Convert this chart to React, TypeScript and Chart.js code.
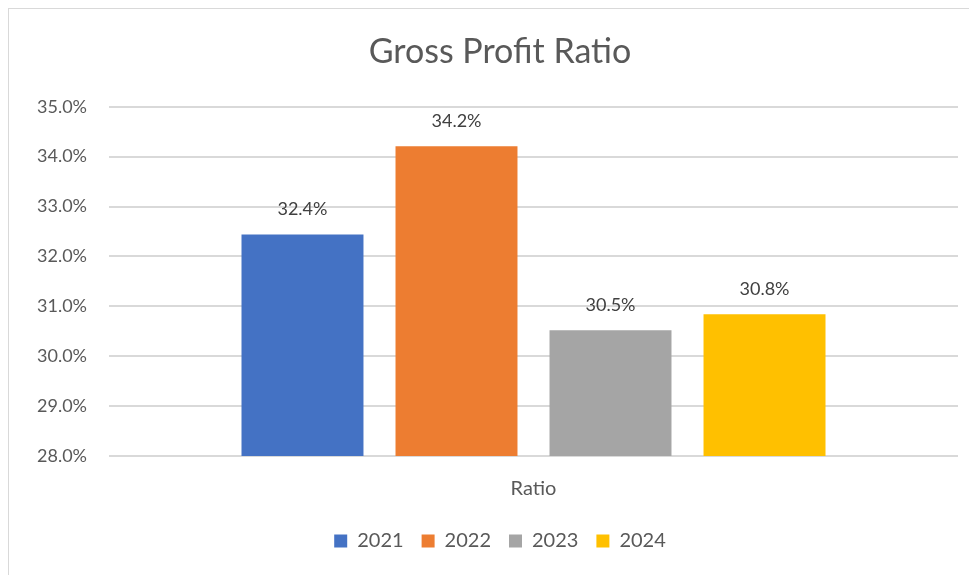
import React, { useEffect, useRef } from 'react';
import { Chart, registerables } from 'chart.js';

Chart.register(...registerables);

const categories = ['Ratio'];
const seriesNames = ['2021', '2022', '2023', '2024'];
const values2021 = [32.44];
const values2022 = [34.21];
const values2023 = [30.52];
const values2024 = [30.84];
const seriesColors = ['#4472C4', '#ED7D31', '#A5A5A5', '#FFC000'];
const yMin = 28;
const yMax = 35;
const yStep = 1;

const FONT = 'Lato';

const barLabelPlugin = {
  id: 'barLabels',
  afterDatasetsDraw(chart: any) {
    const ctx = chart.ctx;
    ctx.save();
    ctx.font = `18px ${FONT}`;
    ctx.fillStyle = '#404040';
    ctx.textAlign = 'center';
    ctx.textBaseline = 'middle';
    chart.data.datasets.forEach((ds: any, i: number) => {
      const meta = chart.getDatasetMeta(i);
      meta.data.forEach((bar: any, j: number) => {
        const v = ds.data[j] as number;
        ctx.fillText(v.toFixed(1) + '%', bar.x, bar.y - 25);
      });
    });
    ctx.restore();
  },
};

export default function App() {
  const canvasRef = useRef<HTMLCanvasElement | null>(null);

  useEffect(() => {
    if (!canvasRef.current) return;
    const allValues = [values2021, values2022, values2023, values2024];
    const chart = new Chart(canvasRef.current, {
      type: 'bar',
      data: {
        labels: categories,
        datasets: seriesNames.map((name, i) => ({
          label: name,
          data: allValues[i],
          backgroundColor: seriesColors[i],
          borderWidth: 0,
          categoryPercentage: 0.7256,
          barPercentage: 0.792,
        })),
      },
      options: {
        responsive: false,
        animation: false,
        layout: { padding: { top: 0, right: 0, left: 0, bottom: 14 } },
        plugins: {
          title: {
            display: true,
            text: 'Gross Profit Ratio',
            color: '#595959',
            font: { family: FONT, size: 34, weight: 'normal' },
            padding: { top: 23, bottom: 34 },
          },
          legend: {
            position: 'bottom',
            labels: {
              boxWidth: 13,
              boxHeight: 13,
              padding: 18,
              color: '#595959',
              font: { family: FONT, size: 20 },
            },
          },
          tooltip: { enabled: false },
        },
        scales: {
          x: {
            grid: { display: false, drawTicks: false },
            border: { display: false },
            ticks: {
              color: '#595959',
              font: { family: FONT, size: 20 },
              padding: 21,
            },
            afterFit: (scale: any) => {
              scale.height = 57;
            },
          },
          y: {
            min: yMin,
            max: yMax,
            ticks: {
              stepSize: yStep,
              color: '#595959',
              font: { family: FONT, size: 18 },
              padding: 22,
              callback: (v: any) => Number(v).toFixed(1) + '%',
            },
            grid: { color: '#D9D9D9', lineWidth: 2, drawTicks: false },
            border: { display: false },
            afterFit: (scale: any) => {
              scale.width = 100;
            },
          },
          y2: {
            position: 'right',
            display: true,
            ticks: { display: false },
            grid: { display: false, drawTicks: false },
            border: { display: false },
            afterFit: (scale: any) => {
              scale.width = 33;
            },
          },
        },
      },
      plugins: [barLabelPlugin],
    });
    return () => chart.destroy();
  }, []);

  return (
    <div
      style={{
        position: 'relative',
        width: 968,
        height: 566,
        overflow: 'hidden',
        borderLeft: '1px solid #D9D9D9',
        borderTop: '1px solid #D9D9D9',
        background: '#fff',
      }}
    >
      <canvas ref={canvasRef} width={982} height={566} style={{ display: 'block' }} />
    </div>
  );
}
